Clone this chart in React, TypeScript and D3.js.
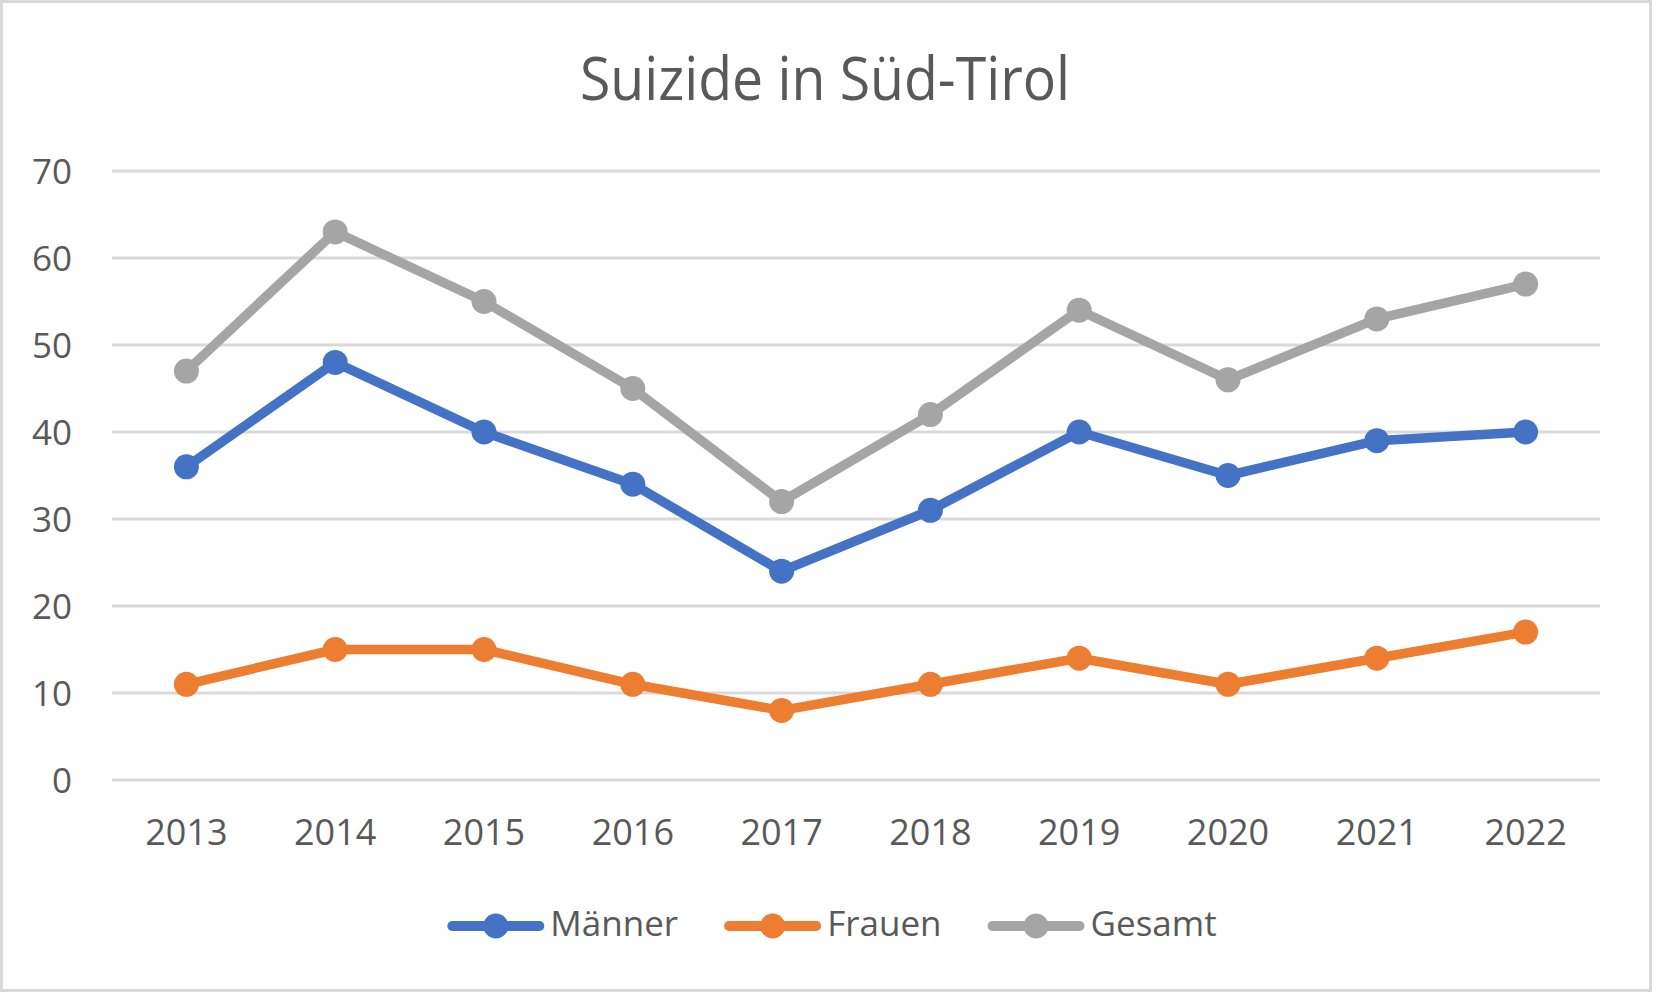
import React, { useEffect } from "react";
import * as d3 from "d3";

const years = ["2013", "2014", "2015", "2016", "2017", "2018", "2019", "2020", "2021", "2022"];
const maenner = [36, 48, 40, 34, 24, 31, 40, 35, 39, 40];
const frauen = [11, 15, 15, 11, 8, 11, 14, 11, 14, 17];
const gesamt = [47, 63, 55, 45, 32, 42, 54, 46, 53, 57];
const yTicks = [0, 10, 20, 30, 40, 50, 60, 70];
const seriesNames = ["Männer", "Frauen", "Gesamt"];
const seriesColors = ["#4472C4", "#ED7D31", "#A5A5A5"];
const title = "Suizide in Süd-Tirol";

const W = 1653;
const H = 993;
const FONT = "'Open Sans', 'Noto Sans', sans-serif";
const TEXT = "#595959";

function measure(text: string, size: number): number {
  const c = document.createElement("canvas").getContext("2d");
  if (!c) return text.length * size * 0.55;
  c.font = `${size}px 'Open Sans'`;
  return c.measureText(text).width;
}

export default function App() {
  useEffect(() => {
    document.body.style.margin = "0";
  }, []);

  const x = d3.scaleBand<string>().domain(years).range([112, 1600]).padding(0);
  const cx = (yr: string) => (x(yr) as number) + x.bandwidth() / 2;
  const y = d3.scaleLinear().domain([0, 70]).range([780, 171]);

  const data = [maenner, frauen, gesamt];
  const line = d3
    .line<number>()
    .x((_, i) => cx(years[i]))
    .y((v) => y(v));

  // legend layout
  const legFs = 35;
  const lineLen = 97;
  const gapText = 6;
  const gapItem = 46;
  const widths = seriesNames.map((n) => measure(n, legFs));
  const total =
    widths.reduce((a, b) => a + b, 0) + seriesNames.length * (lineLen + gapText) + (seriesNames.length - 1) * gapItem;
  let lx = 832 - total / 2;
  const legendItems = seriesNames.map((n, i) => {
    const start = lx;
    lx += lineLen + gapText + widths[i] + gapItem;
    return { name: n, color: seriesColors[i], start };
  });
  const legY = 926;

  return (
    <svg width={W} height={H} style={{ display: "block", position: "absolute", left: 0, top: 0 }} fontFamily={FONT}>
      <rect x={0} y={0} width={W} height={H} fill="#fff" />
      <rect x={1.5} y={1.5} width={1649} height={989} fill="#fff" stroke="#D9D9D9" strokeWidth={3} />
      <text
        x={825}
        y={100}
        textAnchor="middle"
        fontSize={61}
        fill={TEXT}
        textLength={490}
        lengthAdjust="spacingAndGlyphs"
      >
        {title}
      </text>
      {yTicks.map((t) => (
        <g key={t}>
          <line x1={112} x2={1600} y1={y(t)} y2={y(t)} stroke="#D9D9D9" strokeWidth={3} />
          <text x={72} y={y(t) + 12.5} textAnchor="end" fontSize={35} fill={TEXT}>
            {t}
          </text>
        </g>
      ))}
      {years.map((yr) => (
        <text key={yr} x={cx(yr)} y={845} textAnchor="middle" fontSize={36} fill={TEXT}>
          {yr}
        </text>
      ))}
      {data.map((vals, si) => (
        <g key={si}>
          <path
            d={line(vals) || ""}
            fill="none"
            stroke={seriesColors[si]}
            strokeWidth={9.5}
            strokeLinejoin="round"
            strokeLinecap="round"
          />
          {vals.map((v, i) => (
            <circle key={i} cx={cx(years[i])} cy={y(v)} r={12.5} fill={seriesColors[si]} />
          ))}
        </g>
      ))}
      {legendItems.map((it) => (
        <g key={it.name}>
          <line
            x1={it.start + 5}
            x2={it.start + lineLen - 5}
            y1={legY}
            y2={legY}
            stroke={it.color}
            strokeWidth={10}
            strokeLinecap="round"
          />
          <circle cx={it.start + lineLen / 2} cy={legY} r={12.5} fill={it.color} />
          <text x={it.start + lineLen + gapText} y={legY + 10} fontSize={legFs} fill={TEXT}>
            {it.name}
          </text>
        </g>
      ))}
    </svg>
  );
}
